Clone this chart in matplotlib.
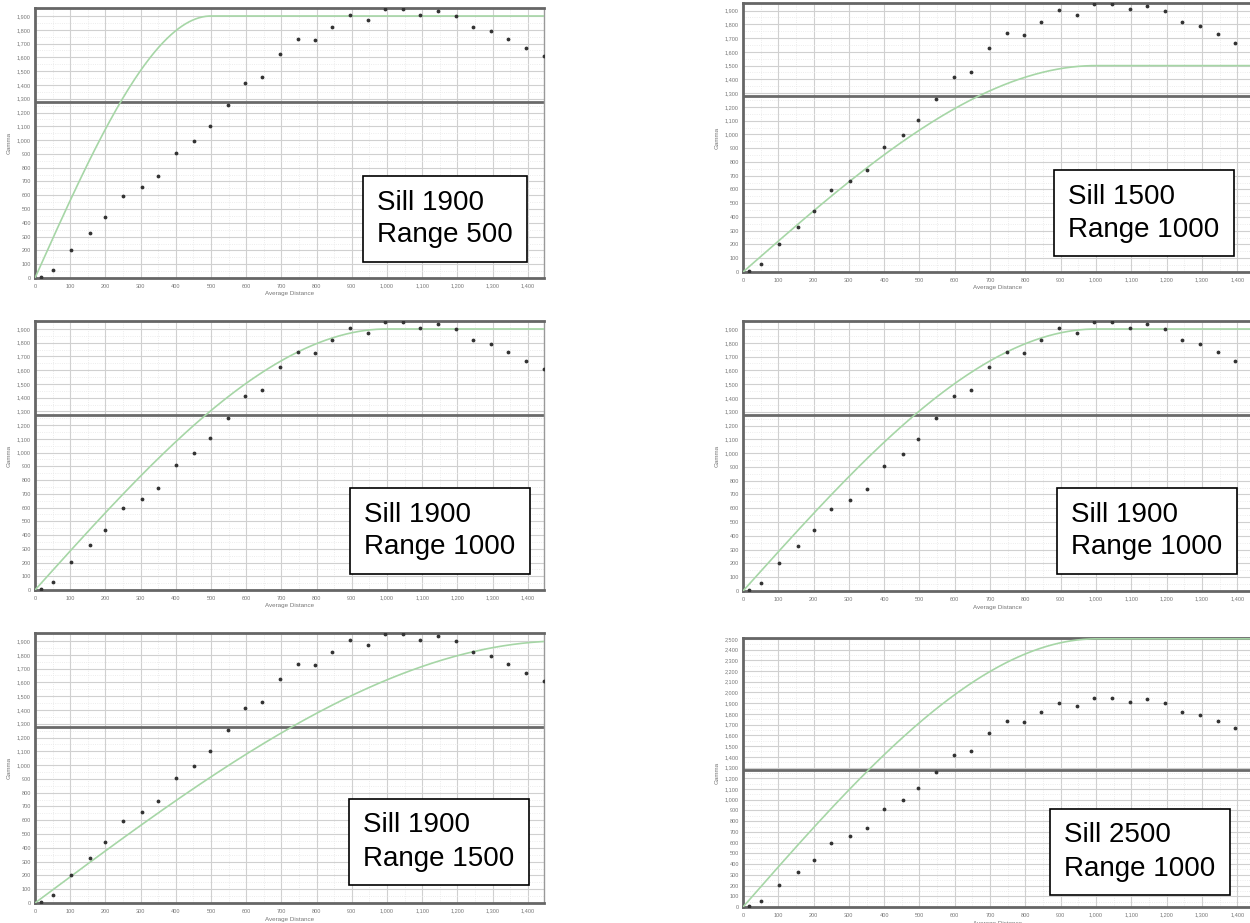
import numpy as np
import matplotlib
matplotlib.use('Agg')
import matplotlib.pyplot as plt
from matplotlib.ticker import MultipleLocator, FuncFormatter

# empirical semivariogram (same in every panel)
lag = [18, 52, 103, 155, 200, 250, 303, 350, 400, 452, 497, 548, 598, 645, 697,
       747, 795, 845, 895, 945, 995, 1045, 1095, 1145, 1195, 1245, 1295, 1345, 1395, 1445]
gamma = [10, 55, 205, 325, 440, 595, 660, 740, 910, 995, 1105, 1255, 1415, 1455, 1625,
         1735, 1725, 1820, 1905, 1870, 1950, 1948, 1910, 1935, 1900, 1820, 1790, 1730, 1665, 1610]
sample_var = 1277

# spherical model parameters per panel (row-major order)
sills = [1900, 1500, 1900, 1900, 1900, 2500]
ranges = [500, 1000, 1000, 1000, 1500, 1000]
ymaxes = [1958, 1955, 1958, 1958, 1958, 2508]

W, H = 1250, 923
fig = plt.figure(figsize=(12.5, 9.23), dpi=100)
plt.rcParams['font.family'] = ['Liberation Sans', 'DejaVu Sans']

# axes boxes in pixels: left, top, right, bottom
boxes = [(35, 8, 544, 278), (743, 3, 1252, 272),
         (35, 321, 544, 590), (743, 321, 1252, 591),
         (35, 633, 544, 903), (743, 638, 1252, 907)]
# label box centres in pixels
label_pos = [(445, 219), (1144, 213), (440, 531), (1147, 531), (439, 842), (1140, 852)]


def spherical(h, c, a):
    h = np.asarray(h, dtype=float)
    r = np.where(h < a, 1.5 * h / a - 0.5 * (h / a) ** 3, 1.0)
    return c * r


comma = FuncFormatter(lambda v, p: '{:,.0f}'.format(v))

for i in range(6):
    l, t, r, b = boxes[i]
    ax = fig.add_axes([l / W, 1 - b / H, (r - l) / W, (b - t) / H])
    xmax = 1446 if r < 600 else 1442
    ax.set_xlim(0, xmax)
    ax.set_ylim(0, ymaxes[i])

    hh = np.linspace(0, xmax, 600)
    ax.plot(hh, spherical(hh, sills[i], ranges[i]), color='#a6d6a6', lw=1.2, zorder=3)
    ax.axhline(sample_var, color='#6a6a6a', lw=2, zorder=2)
    ax.scatter(lag, gamma, s=3, color='#333333', zorder=4)

    ax.xaxis.set_major_locator(MultipleLocator(100))
    ax.yaxis.set_major_locator(MultipleLocator(100))
    ax.xaxis.set_minor_locator(MultipleLocator(50))
    ax.yaxis.set_minor_locator(MultipleLocator(50))
    ax.xaxis.set_major_formatter(comma)
    ax.yaxis.set_major_formatter(comma)
    ax.grid(which='major', color='#d0d0d0', lw=0.8)
    ax.grid(which='minor', color='#e6e6e6', lw=0.6, ls=':')
    ax.tick_params(which='both', length=0, labelsize=4, colors='#777777', pad=3)
    ax.tick_params(axis='x', pad=7)
    for lab in ax.get_xticklabels():
        lab.set_verticalalignment('baseline')
    for s in ax.spines.values():
        s.set_color('#666666')
        s.set_linewidth(2)
    ax.spines['right'].set_linewidth(1)
    ax.spines['right'].set_color('#999999')
    ax.set_ylabel('Gamma', fontsize=4.5, color='#777777', labelpad=4)
    ax.set_xlabel('Average Distance', fontsize=4.5, color='#777777', labelpad=2)

    cx, cy = label_pos[i]
    fig.text(cx / W, 1 - cy / H, 'Sill {}\nRange {}'.format(sills[i], ranges[i]),
             fontsize=20, ha='center', va='center', multialignment='left', linespacing=1.35,
             bbox=dict(boxstyle='square,pad=0.5', fc='white', ec='black', lw=1.2))

plt.savefig('out.png', dpi=100)
